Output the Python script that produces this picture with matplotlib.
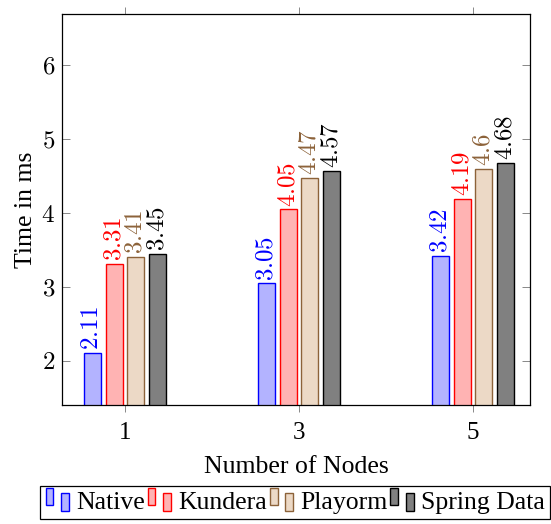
import numpy as np
import matplotlib
matplotlib.use('Agg')
import matplotlib.pyplot as plt
from matplotlib.patches import Rectangle
from matplotlib.legend_handler import HandlerBase

plt.rcParams['font.family'] = ['Liberation Serif', 'DejaVu Serif']
plt.rcParams['mathtext.fontset'] = 'cm'

# data
nodes = [1, 3, 5]
series = ['Native', 'Kundera', 'Playorm', 'Spring Data']
native = [2.11, 3.05, 3.42]
kundera = [3.31, 4.05, 4.19]
playorm = [3.41, 4.47, 4.6]
spring = [3.45, 4.57, 4.68]
values = [native, kundera, playorm, spring]

fills = ['#b3b3ff', '#ffb3b3', '#ecd9c6', '#808080']
edges = ['#0000ff', '#ff0000', '#8c6239', '#000000']
offsets = [-0.375, -0.125, 0.125, 0.375]
bar_w = 0.195


class TwoBars(HandlerBase):
    # pgfplots-style legend image: two small bars
    def create_artists(self, legend, orig, xd, yd, w, h, fs, trans):
        fc = orig.get_facecolor()
        ec = orig.get_edgecolor()
        r1 = Rectangle((xd, yd + 0.2 * h), w * 0.3, h * 0.95, fc=fc, ec=ec, lw=1.0, transform=trans)
        r2 = Rectangle((xd + w * 0.6, yd - 0.1 * h), w * 0.3, h * 0.95, fc=fc, ec=ec, lw=1.0, transform=trans)
        return [r1, r2]


fig = plt.figure(figsize=(5.51, 5.24), dpi=100)
ax = fig.add_axes([0.1125, 0.2271, 0.8494, 0.7462])

handles = []
for vals, name, fc, ec, off in zip(values, series, fills, edges, offsets):
    x = np.array(nodes) + off
    bars = ax.bar(x, vals, width=bar_w, color=fc, edgecolor=ec, linewidth=1.0, label=name, zorder=2)
    handles.append(bars[0])
    for xi, v in zip(x, vals):
        ax.annotate('$%s$' % v, (xi, v), xytext=(0, 2), textcoords='offset points',
                    rotation=90, ha='center', va='bottom', color=ec, fontsize=18)

ax.set_xlim(0.276, 5.655)
ax.set_ylim(1.405, 6.69)
ax.set_xticks(nodes)
ax.set_xticklabels([str(n) for n in nodes], fontsize=18)
ax.set_yticks([2, 3, 4, 5, 6])
ax.set_yticklabels(['$%d$' % t for t in [2, 3, 4, 5, 6]], fontsize=18)
ax.tick_params(axis='x', direction='out', length=5, width=0.7, color='#888888', top=True, pad=7)
ax.tick_params(axis='y', direction='in', length=6, width=0.7, color='#888888', right=True, pad=5)
for s in ax.spines.values():
    s.set_linewidth(0.9)
ax.set_xlabel('Number of Nodes', fontsize=18.5, labelpad=9)
ax.set_ylabel('Time in ms', fontsize=18.5, labelpad=3)

leg = fig.legend(handles, series, loc='lower center', bbox_to_anchor=(0.536, 0.0), ncol=4,
                 handler_map={h: TwoBars() for h in handles}, fontsize=18.5,
                 frameon=True, fancybox=False, edgecolor='black', framealpha=1,
                 handlelength=1.0, handletextpad=0.2, columnspacing=0.1, borderpad=0.2,
                 borderaxespad=0.2)
leg.get_frame().set_linewidth(0.9)

fig.savefig('out.png', dpi=100)
